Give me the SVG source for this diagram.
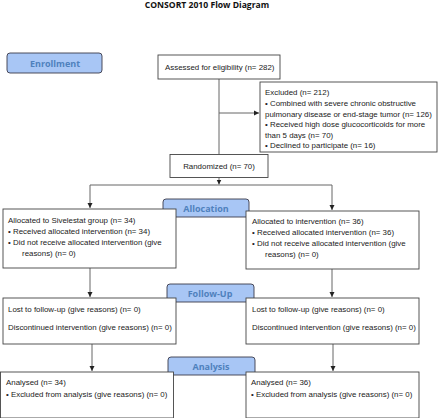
<svg xmlns="http://www.w3.org/2000/svg" width="440" height="418" viewBox="0 0 440 418">
<style>
.box{fill:#fff;stroke:#444;stroke-width:0.9}
.lab{fill:#a8c6f5;stroke:#3a3a4a;stroke-width:0.9}
.t{font-family:"Liberation Sans",Arial,sans-serif;font-size:7.9px;fill:#222}
.lt{font-family:"Open Sans","Liberation Sans",sans-serif;font-size:9px;font-weight:bold;fill:#4f81bd;text-anchor:middle}
.c{fill:none;stroke:#666;stroke-width:1}
</style>
<defs>
<marker id="ah" markerWidth="6" markerHeight="6" refX="5" refY="3" orient="auto" markerUnits="userSpaceOnUse">
<path d="M0,0.5 L5,3 L0,5.5 Z" fill="#222"/>
</marker>
</defs>
<rect width="440" height="418" fill="#fff"/>
<text x="207" y="8" font-family="'Open Sans','Liberation Sans',sans-serif" font-size="8.6" font-weight="bold" text-anchor="middle" fill="#111">CONSORT 2010 Flow Diagram</text>

<g id="connectors">
<path class="c" d="M219,79 V154.5"/>
<path class="c" d="M219,113 H259" marker-end="url(#ah)"/>
<path class="c" d="M219,177.5 V184.5" marker-end="url(#ah)"/>
<path class="c" d="M90,185 H332"/>
<path class="c" d="M90,185 V208" marker-end="url(#ah)"/>
<path class="c" d="M332,185 V210" marker-end="url(#ah)"/>
<path class="c" d="M90,268 V297" marker-end="url(#ah)"/>
<path class="c" d="M332,269 V297" marker-end="url(#ah)"/>
<path class="c" d="M92,344 V371" marker-end="url(#ah)"/>
<path class="c" d="M333,344 V371" marker-end="url(#ah)"/>
</g>

<g id="enrollment"><rect class="lab" x="7" y="53" width="95" height="20" rx="3"/><text class="lt" x="55" y="67">Enrollment</text></g>
<g id="assessed"><rect class="box" x="158" y="55" width="122" height="24"/><text class="t" x="165" y="69.5">Assessed for eligibility (n= 282)</text></g>
<g id="excluded"><rect class="box" x="260" y="82" width="177" height="70"/>
<text class="t" x="265" y="95">Excluded  (n= 212)</text>
<text class="t" x="265" y="106">• Combined with severe chronic obstructive</text>
<text class="t" x="265" y="116.5">pulmonary disease or end-stage tumor (n= 126)</text>
<text class="t" x="265" y="127">• Received high dose glucocorticoids for more</text>
<text class="t" x="265" y="137.5">than 5 days (n= 70)</text>
<text class="t" x="265" y="148">• Declined to participate (n= 16)</text>
</g>
<g id="randomized"><rect class="box" x="170" y="154.5" width="98" height="23"/><text class="t" x="219" y="169" text-anchor="middle">Randomized (n= 70)</text></g>
<g id="allocation"><rect class="lab" x="163" y="199" width="86" height="18" rx="3"/><text class="lt" x="206" y="211.5">Allocation</text></g>
<g id="alloc-left"><rect class="box" x="3" y="209" width="173" height="59"/>
<text class="t" x="8" y="222.5">Allocated to Sivelestat group (n= 34)</text>
<text class="t" x="8" y="233.5">• Received allocated intervention (n= 34)</text>
<text class="t" x="8" y="244.5">• Did not receive allocated intervention (give</text>
<text class="t" x="22" y="255.5">reasons) (n= 0)</text>
</g>
<g id="alloc-right"><rect class="box" x="246" y="211" width="173" height="58"/>
<text class="t" x="252" y="223.5">Allocated to intervention (n= 36)</text>
<text class="t" x="252" y="234.5">• Received allocated intervention (n= 36)</text>
<text class="t" x="252" y="245.5">• Did not receive allocated intervention (give</text>
<text class="t" x="265" y="256.5">reasons) (n= 0)</text>
</g>
<g id="followup"><rect class="lab" x="167" y="284" width="87" height="18" rx="3"/><text class="lt" x="210" y="296.5">Follow-Up</text></g>
<g id="fu-left"><rect class="box" x="3" y="298" width="173" height="46"/>
<text class="t" x="8" y="311.5">Lost to follow-up (give reasons) (n= 0)</text>
<text class="t" x="8" y="329.5">Discontinued intervention (give reasons) (n= 0)</text>
</g>
<g id="fu-right"><rect class="box" x="246" y="298" width="173" height="46"/>
<text class="t" x="252" y="311.5">Lost to follow-up (give reasons) (n= 0)</text>
<text class="t" x="252" y="329.5">Discontinued intervention (give reasons) (n= 0)</text>
</g>
<g id="analysis"><rect class="lab" x="168" y="357" width="87" height="18" rx="3"/><text class="lt" x="211" y="369.5">Analysis</text></g>
<g id="an-left"><rect class="box" x="0.5" y="372" width="173" height="46"/>
<text class="t" x="6" y="385">Analysed  (n= 34)</text>
<text class="t" x="6" y="396.5">• Excluded from analysis (give reasons) (n= 0)</text>
</g>
<g id="an-right"><rect class="box" x="246" y="372" width="173" height="46"/>
<text class="t" x="251" y="385">Analysed  (n= 36)</text>
<text class="t" x="251" y="396.5">• Excluded from analysis (give reasons) (n= 0)</text>
</g>
</svg>
